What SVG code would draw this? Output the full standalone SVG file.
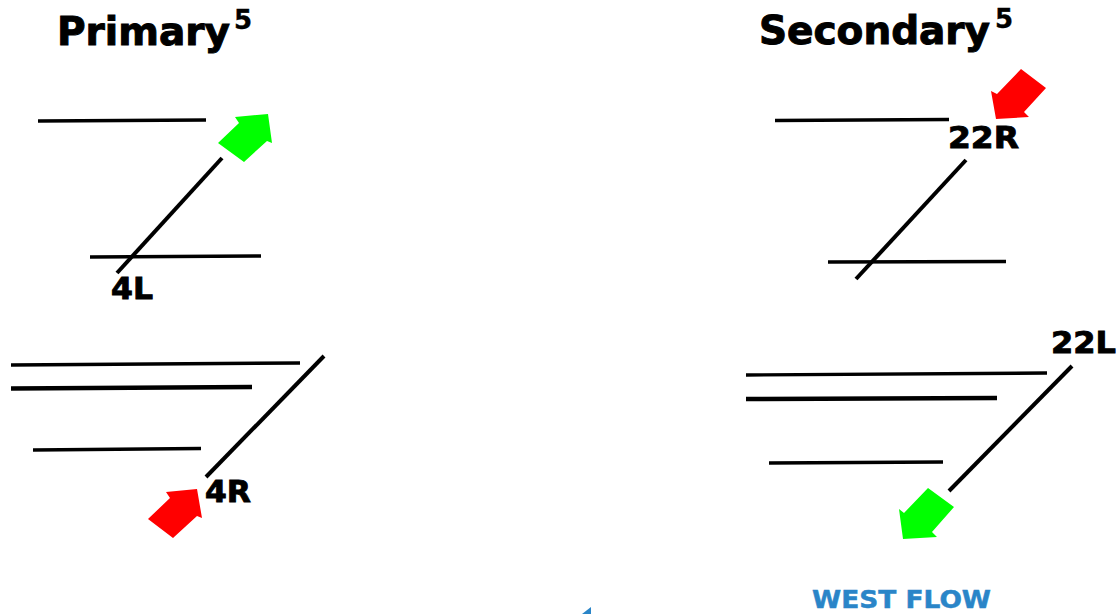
<svg xmlns="http://www.w3.org/2000/svg" width="1117" height="614" viewBox="0 0 1117 614">
<style>
text{font-family:"DejaVu Sans",Verdana,sans-serif;font-weight:700;fill:#000}
.title{font-size:39px;stroke:#000;stroke-width:1}
.sup{font-size:26px;stroke:#000;stroke-width:.4}
.lab{font-size:30px;stroke:#000;stroke-width:.9}
.flow{font-size:24.5px;fill:#2a85c8;stroke:#2a85c8;stroke-width:.5}
.rw{stroke:#000;stroke-width:3.4;fill:none}
.thick{stroke-width:4.5}
.diag{stroke-width:4}
.green{fill:#00ff00}
.red{fill:#ff0000}
</style>
<rect width="1117" height="614" fill="#fff"/>
<g id="connectors">
<line class="rw" x1="38" y1="121" x2="206" y2="120"/>
<line class="rw" x1="90" y1="257" x2="261" y2="256"/>
<line class="rw diag" x1="222" y1="158" x2="117" y2="273"/>
<line class="rw" x1="11" y1="365" x2="300" y2="363"/>
<line class="rw thick" x1="11" y1="388.5" x2="252" y2="387"/>
<line class="rw" x1="33" y1="450" x2="201" y2="448.5"/>
<line class="rw diag" x1="324" y1="356" x2="206" y2="477"/>
<line class="rw" x1="775" y1="120.5" x2="949" y2="119.5"/>
<line class="rw" x1="828" y1="262" x2="1006" y2="261.5"/>
<line class="rw diag" x1="966" y1="160" x2="856" y2="279"/>
<line class="rw" x1="746" y1="375" x2="1047" y2="373"/>
<line class="rw thick" x1="746" y1="399" x2="997" y2="398"/>
<line class="rw" x1="769" y1="463" x2="943" y2="462"/>
<line class="rw diag" x1="1072" y1="366" x2="949" y2="491"/>
</g>
<g id="title-primary"><text class="title" x="57" y="45" textLength="173" lengthAdjust="spacingAndGlyphs">Primary</text><text class="sup" x="234" y="29">5</text></g>
<g id="title-secondary"><text class="title" x="759" y="44" textLength="231" lengthAdjust="spacingAndGlyphs">Secondary</text><text class="sup" x="995" y="28">5</text></g>
<g id="arrow-4l"><polygon class="green" points="235,117 268,114 272,143 267,141 244,162 218,143 239,123"/></g>
<g id="arrow-4r"><polygon class="red" points="166,492 197,489 202,518 197,516 173,538 148,519 170,498"/></g>
<g id="arrow-22r"><polygon class="red" points="1021,69 1046,88 1024,112 1029,117 996,119 991,91 997,94"/></g>
<g id="arrow-22l"><polygon class="green" points="928,488 954,507 932,532 937,537 903,539 899,509 904,513"/></g>
<g id="label-4l"><text class="lab" x="111" y="299" textLength="42" lengthAdjust="spacingAndGlyphs">4L</text></g>
<g id="label-4r"><text class="lab" x="205" y="502" textLength="46" lengthAdjust="spacingAndGlyphs">4R</text></g>
<g id="label-22r"><text class="lab" x="948" y="148" textLength="71" lengthAdjust="spacingAndGlyphs">22R</text></g>
<g id="label-22l"><text class="lab" x="1051" y="353" textLength="65" lengthAdjust="spacingAndGlyphs">22L</text></g>
<g id="west-flow"><text class="flow" x="812" y="608" textLength="179" lengthAdjust="spacingAndGlyphs">WEST FLOW</text></g>
<g id="blue-mark"><polygon fill="#2a85c8" points="582,614 591,607 591,614"/></g>
</svg>
